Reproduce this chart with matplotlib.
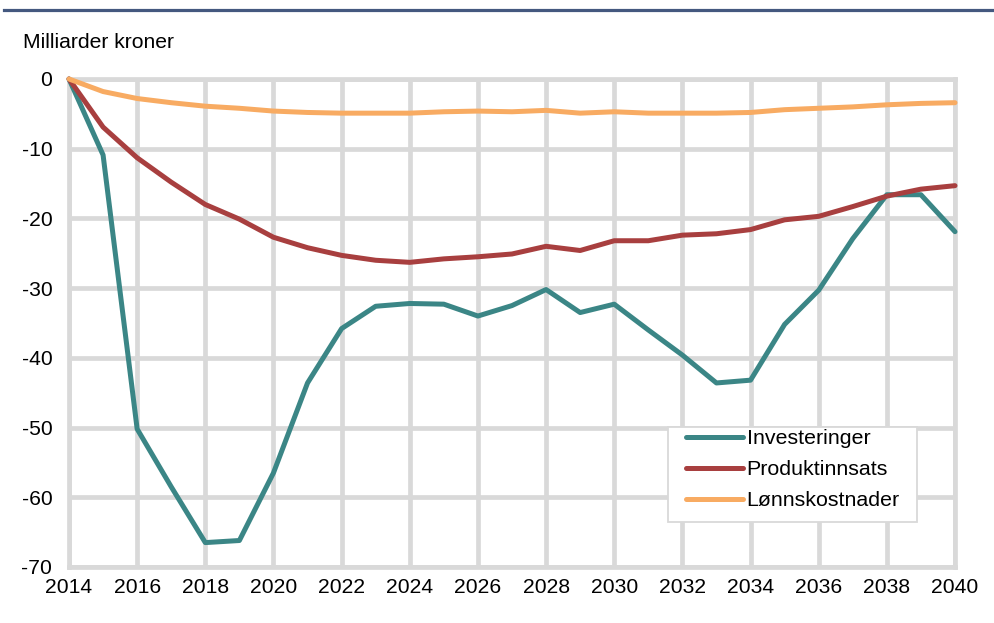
import matplotlib
matplotlib.use("Agg")
import matplotlib.pyplot as plt
from matplotlib.lines import Line2D
from matplotlib.patches import Rectangle

plt.rcParams['font.family'] = ['Liberation Sans', 'DejaVu Sans']
plt.rcParams['axes.unicode_minus'] = False

years = list(range(2014, 2041))

investeringer = [0.0, -10.9, -50.2, -58.5, -66.5, -66.2, -56.5, -43.6, -35.8, -32.6,
                 -32.2, -32.3, -34.0, -32.5, -30.2, -33.5, -32.3, -36.0, -39.6, -43.6,
                 -43.2, -35.2, -30.3, -22.9, -16.6, -16.6, -21.9]
produktinnsats = [0.0, -6.9, -11.3, -14.8, -18.0, -20.1, -22.7, -24.2, -25.3, -26.0,
                  -26.3, -25.8, -25.5, -25.1, -24.0, -24.6, -23.2, -23.2, -22.4, -22.2,
                  -21.6, -20.2, -19.7, -18.3, -16.8, -15.8, -15.3]
lonnskostnader = [0.0, -1.8, -2.8, -3.4, -3.9, -4.2, -4.6, -4.8, -4.9, -4.9,
                  -4.9, -4.7, -4.6, -4.7, -4.5, -4.9, -4.7, -4.9, -4.9, -4.9,
                  -4.8, -4.4, -4.2, -4.0, -3.7, -3.5, -3.4]

series_names = ['Investeringer', 'Produktinnsats', 'Lønnskostnader']
series_colors = ['#3b8686', '#a83f3f', '#f8ab62']

x_ticks = list(range(2014, 2041, 2))
y_ticks = list(range(-70, 1, 10))

W, H = 994, 623
fig = plt.figure(figsize=(W / 100, H / 100), dpi=100)
AX_L, AX_R, AX_T, AX_B = 69, 955, 79, 567
ax = fig.add_axes([AX_L / W, 1 - AX_B / H, (AX_R - AX_L) / W, (AX_B - AX_T) / H])


def fig_xy(px, py):
    """Pixel position (from top-left) to figure fraction."""
    return px / W, 1 - py / H


grid_color = '#d9d9d9'
ax.set_xlim(2014, 2040)
ax.set_ylim(-70, 0)
ax.set_xticks(x_ticks)
ax.set_yticks(y_ticks)
ax.grid(True, color=grid_color, linewidth=3.4, zorder=0)
for s in ax.spines.values():
    s.set_color(grid_color)
    s.set_linewidth(3.4)
ax.tick_params(length=0, labelsize=15.2)
ax.tick_params(axis='x', pad=8)
ax.tick_params(axis='y', pad=12)
ax.set_axisbelow(True)

for vals, name, col in zip([investeringer, produktinnsats, lonnskostnader],
                           series_names, series_colors):
    ax.plot(years, vals, color=col, linewidth=3.6, label=name,
            solid_capstyle='round', solid_joinstyle='round', zorder=3, clip_on=False)

# legend: framed box with handle + label rows
bx0, by0 = fig_xy(668, 522)
bx1, by1 = fig_xy(917, 427)
fig.add_artist(Rectangle((bx0, by0), bx1 - bx0, by1 - by0, transform=fig.transFigure,
                         facecolor='white', edgecolor=grid_color, linewidth=1.3,
                         zorder=5))
handles = [Line2D([0], [0], color=c, linewidth=3.6, solid_capstyle='round')
           for c in series_colors]
lx, ly = fig_xy(686, 429.5)
leg = fig.legend(handles, series_names, loc='upper left', bbox_to_anchor=(lx, ly),
                 bbox_transform=fig.transFigure, fontsize=15.4, frameon=False,
                 handlelength=2.65, handletextpad=0.19, labelspacing=0.56,
                 borderpad=0, borderaxespad=0)
leg.set_zorder(6)

fig.text(23 / W, 1 - 43 / H, 'Milliarder kroner', fontsize=15.2,
         ha='left', va='center')

# rule under the heading band
fig.add_artist(Line2D([4 / W, 1.0], [1 - 9.5 / H, 1 - 9.5 / H],
                      color='#44587f', linewidth=2.3, transform=fig.transFigure))

fig.savefig('out.png', dpi=100)
